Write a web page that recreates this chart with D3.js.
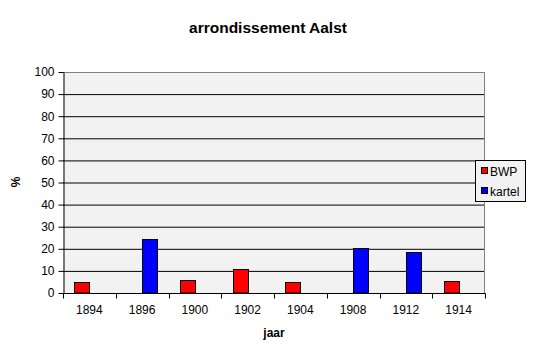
<!DOCTYPE html>
<html><head><meta charset="utf-8">
<script src="https://cdn.jsdelivr.net/npm/d3@7"></script>
<style>body{margin:0;background:#fff}svg{display:block;font-family:"Liberation Sans",Arial,sans-serif}</style>
</head><body>
<svg id="c" width="536" height="351"></svg>
<script>
const years = ["1894","1896","1900","1902","1904","1908","1912","1914"];
const seriesNames = ["BWP","kartel"];
const seriesColors = ["#ff0000","#0000ff"];
const bwp = [4.8, null, 5.7, 11.0, 4.8, null, null, 5.3];
const kartel = [null, 24.3, null, null, null, 20.2, 18.4, null];
const yTicks = [0,10,20,30,40,50,60,70,80,90,100];

const svg = d3.select("#c");
const L = 63, R = 485, T = 72, B = 293;
const x = d3.scaleBand().domain(years).range([L, R]).padding(0);
const y = d3.scaleLinear().domain([0,100]).range([B, T]);
const bw = x.bandwidth()/3.5;

svg.append("rect").attr("x",L).attr("y",T).attr("width",R-L).attr("height",B-T).attr("fill","#f2f2f2");
svg.append("g").selectAll("line").data(yTicks.filter(d=>d>0&&d<100)).join("line")
  .attr("x1",L).attr("x2",R).attr("y1",d=>y(d)+0.5).attr("y2",d=>y(d)+0.5).attr("stroke","#000");
svg.append("path").attr("d",`M${L},${T+0.5}H${R-0.5}V${B}`).attr("fill","none").attr("stroke","#808080");

const data = [bwp, kartel];
data.forEach((vals, si) => {
  svg.append("g").selectAll("rect").data(years.map((yr,i)=>({yr, v: vals[i]})).filter(d=>d.v!=null)).join("rect")
    .attr("x", d => Math.round(x(d.yr) + 0.75*bw + si*bw) + 0.5)
    .attr("y", d => Math.round(y(d.v)) + 0.5)
    .attr("width", Math.round(bw))
    .attr("height", d => B - Math.round(y(d.v)) - 0.5)
    .attr("fill", seriesColors[si]).attr("stroke","#000").attr("stroke-width",1);
});

// y axis
const ya = svg.append("g").attr("transform",`translate(${L+0.5},0)`)
  .call(d3.axisLeft(y).tickValues(yTicks).tickSize(5).tickSizeOuter(0).tickPadding(4));
ya.select(".domain").attr("stroke","#000");
ya.selectAll("line").attr("stroke","#000");
ya.selectAll("text").attr("font-size",12).attr("fill","#000").attr("font-family","Liberation Sans, Arial, sans-serif");

// x axis
const xg = svg.append("g").attr("transform",`translate(0,${B+0.5})`);
xg.append("line").attr("x1",L).attr("x2",R+0.5).attr("stroke","#000");
xg.selectAll(".tk").data(d3.range(years.length+1)).join("line")
  .attr("x1",i=>Math.round(L+i*x.bandwidth())+0.5).attr("x2",i=>Math.round(L+i*x.bandwidth())+0.5)
  .attr("y1",0).attr("y2",5).attr("stroke","#000");
xg.selectAll("text").data(years).join("text")
  .attr("x",d=>x(d)+x.bandwidth()/2).attr("y",20).attr("text-anchor","middle")
  .attr("font-size",12).text(d=>d);

svg.append("text").attr("x",268).attr("y",33).attr("text-anchor","middle")
  .attr("font-size",15.5).attr("font-weight","bold").text("arrondissement Aalst");
svg.append("text").attr("x",274).attr("y",337).attr("text-anchor","middle")
  .attr("font-size",12).attr("font-weight","bold").text("jaar");
svg.append("text").attr("transform","translate(20,182) rotate(-90)").attr("text-anchor","middle")
  .attr("font-size",12).attr("font-weight","bold").text("%");

// legend
const lg = svg.append("g");
lg.append("rect").attr("x",475.5).attr("y",160.5).attr("width",50).attr("height",41).attr("fill","#f2f2f2").attr("stroke","#000");
seriesNames.forEach((n,i)=>{
  const cy = 171 + i*20;
  lg.append("rect").attr("x",481.5).attr("y",cy-3.5).attr("width",6).attr("height",6).attr("fill",seriesColors[i]).attr("stroke","#000");
  lg.append("text").attr("x",490).attr("y",cy+4.5).attr("font-size",12).text(n);
});
</script>
</body></html>
